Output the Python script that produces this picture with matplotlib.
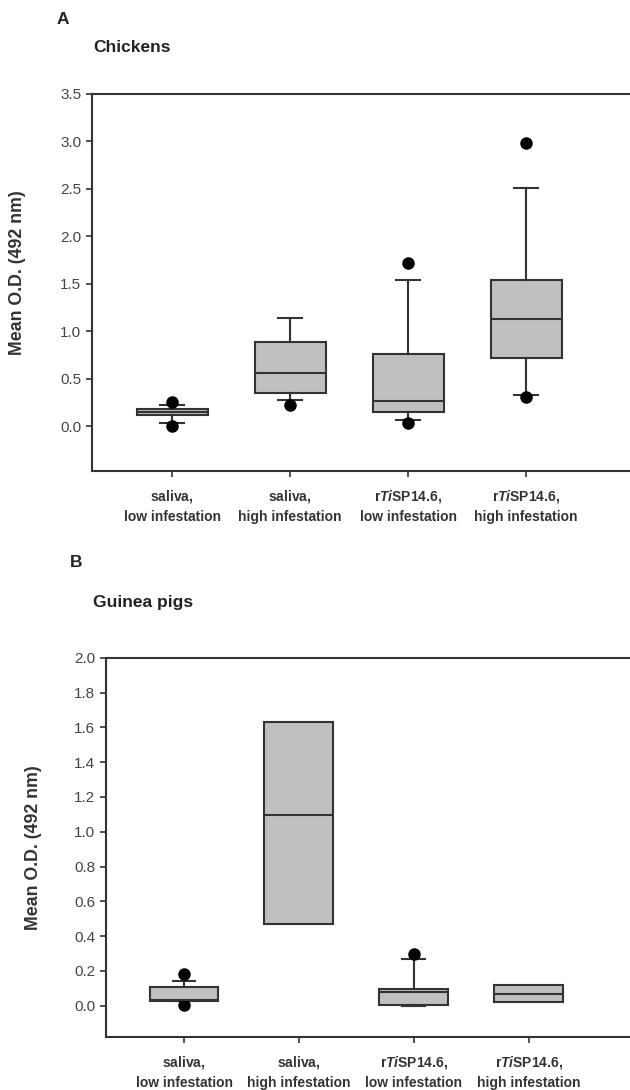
import matplotlib
matplotlib.use("Agg")
import matplotlib.pyplot as plt

plt.rcParams['font.family'] = ['Liberation Sans', 'DejaVu Sans']
plt.rcParams['mathtext.fontset'] = 'custom'
plt.rcParams['mathtext.it'] = 'Liberation Sans:bold:italic'
plt.rcParams['mathtext.rm'] = 'Liberation Sans:bold'

groups = ["saliva$,$\nlow infestation", "saliva$,$\nhigh infestation",
          "r$\\mathit{Ti}$SP14.6,\nlow infestation", "r$\\mathit{Ti}$SP14.6,\nhigh infestation"]

# chickens (panel A)
ch_q1 = [0.12, 0.345, 0.15, 0.72]
ch_med = [0.15, 0.56, 0.27, 1.13]
ch_q3 = [0.18, 0.89, 0.76, 1.54]
ch_lo = [0.035, 0.28, 0.07, 0.33]
ch_hi = [0.22, 1.14, 1.535, 2.51]
ch_out = [[0.0, 0.26], [0.22], [0.03, 1.72], [0.31, 2.98]]

# guinea pigs (panel B)
gp_q1 = [0.025, 0.47, 0.005, 0.02]
gp_med = [0.03, 1.095, 0.08, 0.065]
gp_q3 = [0.11, 1.63, 0.095, 0.12]
gp_lo = [0.025, 0.47, 0.0, 0.02]
gp_hi = [0.14, 1.63, 0.27, 0.12]
gp_out = [[0.005, 0.18], [], [0.30], []]
gp_caps = [True, False, True, False]

edge = '#333333'
txt = '#333333'


def stats(q1, med, q3, lo, hi, out):
    s = []
    for i in range(len(q1)):
        s.append(dict(q1=q1[i], med=med[i], q3=q3[i], whislo=lo[i], whishi=hi[i], fliers=out[i]))
    return s


def panel(ax, st, caps, ylim, yticks, fmt):
    for i, d in enumerate(st):
        ax.bxp([d], positions=[i + 1], widths=0.6, patch_artist=True,
               showcaps=caps[i], capwidths=0.2,
               boxprops=dict(facecolor='#c0c0c0', edgecolor=edge, linewidth=1.5),
               medianprops=dict(color=edge, linewidth=1.5),
               whiskerprops=dict(color=edge, linewidth=1.5),
               capprops=dict(color=edge, linewidth=1.5),
               flierprops=dict(marker='o', markerfacecolor='black', markeredgecolor='black', markersize=8))
    ax.set_ylim(*ylim)
    ax.set_xlim(0.32, 4.88)
    ax.set_yticks(yticks)
    ax.set_yticklabels([fmt % v for v in yticks])
    ax.set_xticks([1, 2, 3, 4])
    ax.set_xticklabels(groups, fontsize=10, color=txt, fontweight='bold', linespacing=1.45)
    ax.tick_params(axis='y', labelsize=11, labelcolor='#444444', direction='out', length=4.3, width=1.2,
                   color=edge, pad=3.5)
    ax.tick_params(axis='x', direction='out', length=4.3, width=1.2, color=edge, pad=8)
    ax.spines['right'].set_visible(False)
    for sp in ['left', 'top', 'bottom']:
        ax.spines[sp].set_color(edge)
        ax.spines[sp].set_linewidth(1.5)
    ax.set_ylabel("Mean O.D. (492 nm)", fontsize=12.8, color=txt, fontweight='bold')


fig = plt.figure(figsize=(6.3, 10.9), dpi=100)

ax1 = fig.add_axes([0.146, 0.568, 0.854, 0.346])
panel(ax1, stats(ch_q1, ch_med, ch_q3, ch_lo, ch_hi, ch_out), [True] * 4,
      (-0.47, 3.5), [0.0, 0.5, 1.0, 1.5, 2.0, 2.5, 3.0, 3.5], "%.1f")
ax1.yaxis.set_label_coords(-0.123, 0.525)

ax2 = fig.add_axes([0.168, 0.0486, 0.832, 0.348])
panel(ax2, stats(gp_q1, gp_med, gp_q3, gp_lo, gp_hi, gp_out), gp_caps,
      (-0.18, 2.0), [0.0, 0.2, 0.4, 0.6, 0.8, 1.0, 1.2, 1.4, 1.6, 1.8, 2.0], "%.1f")
ax2.yaxis.set_label_coords(-0.122, 0.5)

fig.text(57 / 630, 1 - 19 / 1090, "A", fontsize=12.5, fontweight='bold', color='#222222', va='center')
fig.text(93 / 630, 1 - 48 / 1090, "Chickens", fontsize=12.5, fontweight='bold', color='#222222', va='center')
fig.text(70 / 630, 1 - 563 / 1090, "B", fontsize=12.5, fontweight='bold', color='#222222', va='center')
fig.text(93 / 630, 1 - 602 / 1090, "Guinea pigs", fontsize=12.5, fontweight='bold', color='#222222', va='center')

fig.savefig("out.png", dpi=100)
